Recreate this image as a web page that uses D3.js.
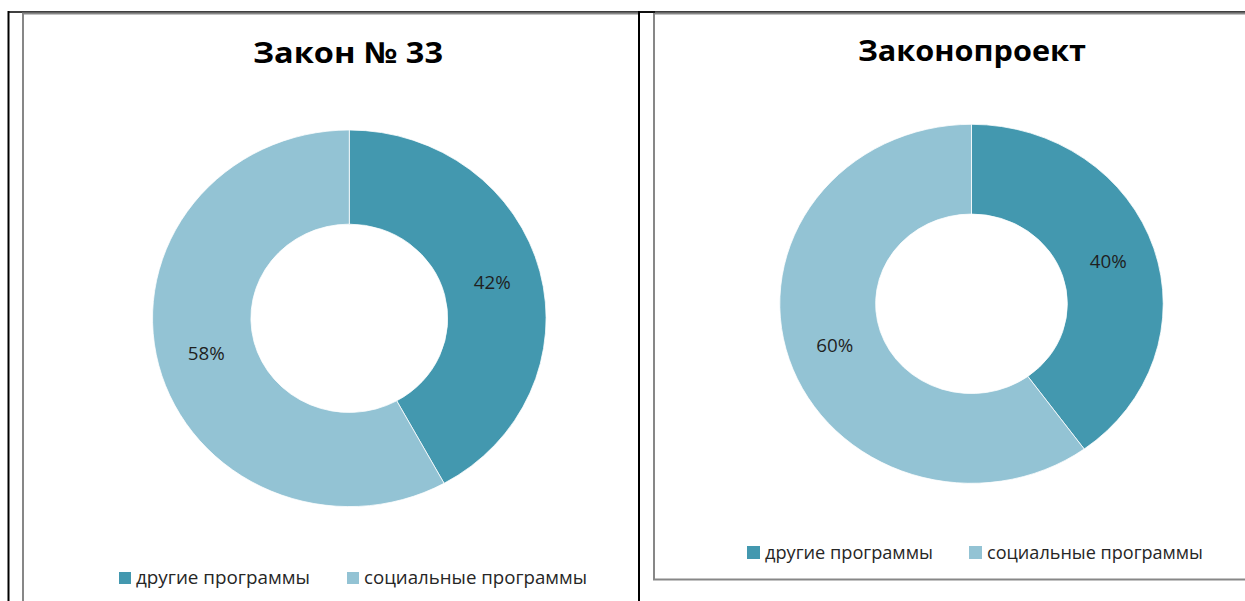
<!DOCTYPE html>
<html>
<head>
<meta charset="utf-8">
<script src="https://cdnjs.cloudflare.com/ajax/libs/d3/7.8.5/d3.min.js"></script>
<style>
  body { margin: 0; background: #fff; }
  svg { display: block; }
  .title { font-family: "Open Sans", "Noto Sans", sans-serif; font-weight: bold; fill: #000; }
  .label { font-family: "Open Sans", "Noto Sans", sans-serif; fill: #1f1f1f; }
  .legend text { font-family: "Open Sans", "Noto Sans", sans-serif; fill: #262626; }
</style>
</head>
<body>
<div id="chart"></div>
<script>
// data
var categories = ["другие программы", "социальные программы"];
var titles = ["Закон № 33", "Законопроект"];
var lawValues = [42, 58];
var billValues = [40, 60];
var colors = ["#4398af", "#93c3d4"];

var width = 1245, height = 601;

var svg = d3.select("#chart").append("svg")
    .attr("width", width)
    .attr("height", height);

// table lines + chart frames
svg.append("line").attr("x1", 8).attr("x2", width).attr("y1", 12).attr("y2", 12)
    .attr("stroke", "#000").attr("stroke-width", 1.5);
svg.append("line").attr("x1", 8.5).attr("x2", 8.5).attr("y1", 11).attr("y2", height)
    .attr("stroke", "#000").attr("stroke-width", 2);
svg.append("rect").attr("x", 23).attr("y", 13.5).attr("width", 616).attr("height", 700)
    .attr("fill", "none").attr("stroke", "#878787").attr("stroke-width", 2);
svg.append("rect").attr("x", 654).attr("y", 13.5).attr("width", 700).attr("height", 566)
    .attr("fill", "none").attr("stroke", "#878787").attr("stroke-width", 2);
svg.append("line").attr("x1", 639).attr("x2", 639).attr("y1", 11).attr("y2", height)
    .attr("stroke", "#000").attr("stroke-width", 2);
svg.append("line").attr("x1", 638).attr("x2", 655).attr("y1", 12).attr("y2", 12)
    .attr("stroke", "#000").attr("stroke-width", 1.5);

var panels = [
  {title: titles[0], values: lawValues, cx: 349.3, cy: 318.3, r: 188.3, sx: 1.045,
   tx: 348, ty: 63, tw: 190,
   legend: {y: 584, sq: 12, items: [{x: 119, tx: 136, w: 174}, {x: 347, tx: 364, w: 223}]}},
  {title: titles[1], values: billValues, cx: 971.5, cy: 303.8, r: 179.5, sx: 1.068,
   tx: 972, ty: 61, tw: 228,
   legend: {y: 559, sq: 13, items: [{x: 747, tx: 765, w: 168}, {x: 969, tx: 987, w: 216}]}}
];

var pie = d3.pie().sort(null).value(function(d) { return d; });

panels.forEach(function(p) {
  svg.append("text")
      .attr("class", "title")
      .attr("x", p.tx).attr("y", p.ty)
      .attr("text-anchor", "middle")
      .attr("font-size", 29)
      .attr("textLength", p.tw)
      .attr("lengthAdjust", "spacingAndGlyphs")
      .text(p.title);

  var arc = d3.arc().innerRadius(p.r * 0.5).outerRadius(p.r);

  var g = svg.append("g")
      .attr("transform", "translate(" + p.cx + "," + p.cy + ") scale(" + p.sx + ",1)");

  var arcs = pie(p.values);

  g.selectAll("path")
    .data(arcs)
    .enter().append("path")
      .attr("d", arc)
      .attr("fill", function(d, i) { return colors[i]; })
      .attr("stroke", "#fff")
      .attr("stroke-width", 0.75);

  // labels, drawn outside the scaled group so text isn't stretched
  svg.selectAll(null)
    .data(arcs)
    .enter().append("text")
      .attr("class", "label")
      .attr("x", function(d) { return p.cx + arc.centroid(d)[0] * p.sx; })
      .attr("y", function(d) { return p.cy + arc.centroid(d)[1]; })
      .attr("dy", "0.35em")
      .attr("text-anchor", "middle")
      .attr("font-size", 18)
      .attr("textLength", 37)
      .attr("lengthAdjust", "spacingAndGlyphs")
      .text(function(d) { return d.value + "%"; });

  // legend
  var lg = svg.append("g").attr("class", "legend");
  p.legend.items.forEach(function(it, i) {
    lg.append("rect")
        .attr("x", it.x).attr("y", p.legend.y - p.legend.sq)
        .attr("width", p.legend.sq).attr("height", p.legend.sq)
        .attr("fill", colors[i]);
    lg.append("text")
        .attr("x", it.tx).attr("y", p.legend.y)
        .attr("font-size", 18)
        .attr("textLength", it.w)
        .attr("lengthAdjust", "spacingAndGlyphs")
        .text(categories[i]);
  });
});
</script>
</body>
</html>
